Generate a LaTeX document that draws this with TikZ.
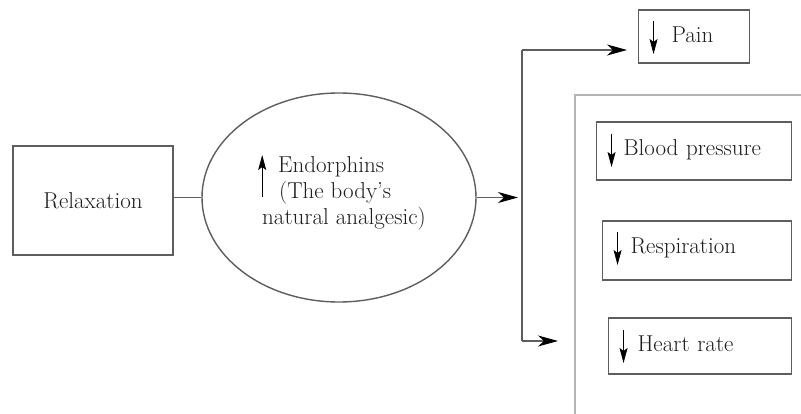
\documentclass[tikz,border=0pt]{standalone}
\usetikzlibrary{arrows.meta,shapes.geometric}
\definecolor{linegray}{HTML}{5E5E5E}
\definecolor{biggray}{HTML}{B4B4B4}
\definecolor{txt}{HTML}{1E1E1E}
\tikzset{
  conn/.style={draw=linegray, line width=1.1pt},
  bigarr/.style={conn, -{Stealth[length=20pt,width=11pt,inset=6pt,color=black]}},
  smallarr/.style={draw=black, line width=0.8pt, -{Stealth[length=15pt,width=8pt,inset=3pt]}},
  smallbox/.style={draw=linegray, line width=1.1pt, inner ysep=0pt, inner xsep=10pt, align=left, anchor=base west, text=txt},
  plaintext/.style={inner sep=0pt, anchor=base west, text=txt}
}
\newcommand\dnarr[1]{\tikz[baseline=0pt]{\useasboundingbox (-5pt,0pt) rectangle (#1,0pt); \draw[smallarr] (0pt,22pt) -- (0pt,-11pt);}}
\newcommand\uparr{\tikz[baseline=0pt]{\useasboundingbox (0pt,0pt) rectangle (16pt,0pt); \draw[smallarr] (0pt,-24pt) -- (0pt,18pt);}}
\begin{document}
\begin{tikzpicture}[x=1pt,y=-1pt,font=\fontsize{23}{26}\selectfont]
\clip (0,0) rectangle (801,414);
\fill[white] (0,0) rectangle (801,414);

% big container (clipped at right and bottom)
\node[draw=biggray, line width=2.2pt, minimum width=260pt, minimum height=330pt, anchor=north west, inner sep=0pt] (group) at (574,94) {};

% Relaxation
\node[draw=linegray, line width=1.2pt, minimum width=160pt, minimum height=109pt, text=txt] (relax) at (93,200.5) {Relaxation};

% Ellipse
\node[ellipse, draw=linegray, line width=1.4pt, minimum width=274pt, minimum height=209pt, inner sep=0pt] (endo) at (339,197.5) {};
\node[plaintext] (endo1) at (262,173) {\uparr Endorphins};
\node[plaintext] (endo2) at (279,199) {(The body's};
\node[plaintext] (endo3) at (262,225) {natural analgesic)};

% Pain
\node[smallbox, text width=91pt, text height=33pt, text depth=20pt] (pain) at (638,43) {\dnarr{18pt}Pain};

% Effects
\node[smallbox, text width=175pt, text height=34pt, text depth=24pt] (bp) at (596,156) {\dnarr{12pt}Blood pressure};
\node[smallbox, text width=169pt, text height=33pt, text depth=26pt] (resp) at (602,254) {\dnarr{13pt}Respiration};
\node[smallbox, text width=163pt, text height=34pt, text depth=22pt] (heart) at (608,352) {\dnarr{14pt}Heart rate};

% connectors
\coordinate (mtip) at (518,197.5);
\coordinate (jtop) at (522,50);
\coordinate (jbot) at (522,341);
\coordinate (ptip) at (627,50);
\coordinate (gtip) at (558,341);

\draw[conn] (relax.east |- endo.west) -- (endo.west);
\draw[bigarr] (endo.east) -- (mtip);
\draw[conn] (jtop) -- (jbot);
\draw[bigarr] (jtop) -- (ptip);
\draw[bigarr] (jbot) -- (gtip);
\end{tikzpicture}
\end{document}
